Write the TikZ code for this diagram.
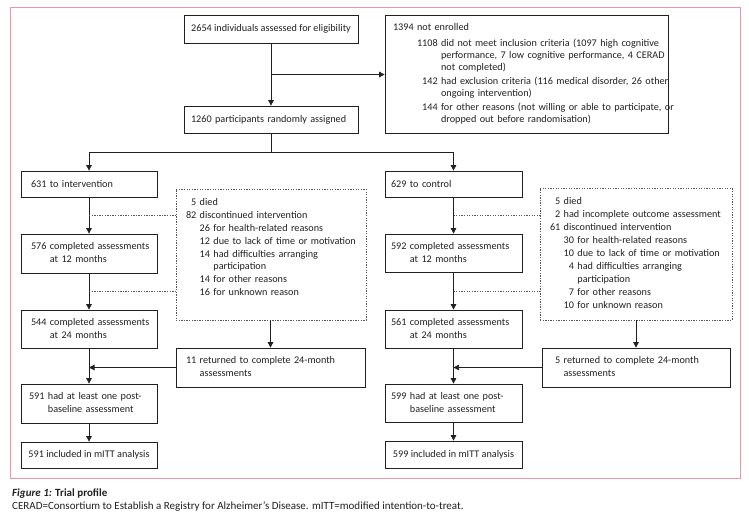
\documentclass[tikz,border=0pt]{standalone}
\usepackage{fontspec}
\setmainfont{Carlito}
\usetikzlibrary{arrows.meta,calc}
\definecolor{ink}{HTML}{231F20}
\definecolor{framepink}{HTML}{E797A6}
\definecolor{dashgray}{HTML}{555555}
\tikzset{
  base/.style={inner sep=0pt, font=\fontsize{10.2pt}{12.9pt}\selectfont, text=ink},
  box/.style={base, draw=ink, line width=0.75pt},
  lbox/.style={box, align=left},
  cbox/.style={box, align=center},
  dbox/.style={base, draw=dashgray, line width=0.75pt, dash pattern=on 1.3pt off 1.3pt, align=left},
  conn/.style={draw=ink, line width=0.75pt},
  arr/.style={conn, -{Triangle[width=5.5pt,length=5.5pt]}},
  dconn/.style={draw=dashgray, line width=0.75pt, dash pattern=on 1.3pt off 1.3pt},
  captext/.style={anchor=base west, inner sep=0pt, text=ink, font=\fontsize{11pt}{13pt}\selectfont},
}
\begin{document}
\begin{tikzpicture}[x=1pt,y=-1pt]
\useasboundingbox (0,0) rectangle (749,520);
\draw[framepink, line width=0.9pt] (10.5,7) rectangle (740.5,478);

% top
\node[cbox, minimum width=174pt, minimum height=28pt] (A) at (271,29) {2654 individuals assessed for eligibility};
\node[lbox, minimum width=283pt, minimum height=118pt, text width=267pt, font=\fontsize{10.2pt}{12pt}\selectfont] (B) at (526.5,74) {\begin{tabular}{@{}r@{\ }l@{}}
\multicolumn{2}{@{}l@{}}{1394 not enrolled}\\[4pt]
\hspace*{24pt}1108 & did not meet inclusion criteria (1097 high cognitive\\
 & performance, 7 low cognitive performance, 4 CERAD\\
 & not completed)\\[2pt]
142 & had exclusion criteria (116 medical disorder, 26 other\\
 & ongoing intervention)\\[2pt]
144 & for other reasons (not willing or able to participate, or\\
 & dropped out before randomisation)
\end{tabular}};
\node[lbox, minimum width=174pt, minimum height=27pt, text width=160pt] (C) at (271,119.5) {1260 participants randomly assigned};

% left column
\node[lbox, minimum width=136pt, minimum height=26pt, text width=116pt] (D) at (89,184) {631 to intervention};
\node[lbox, minimum width=136pt, minimum height=39pt, text width=116pt] (E) at (89,253.5) {\begin{tabular}{@{}r@{\ }l@{}}576 & completed assessments\\ & at 12 months\end{tabular}};
\node[lbox, minimum width=136pt, minimum height=38pt, text width=116pt] (F) at (89,329) {\begin{tabular}{@{}r@{\ }l@{}}544 & completed assessments\\ & at 24 months\end{tabular}};
\node[lbox, minimum width=136pt, minimum height=39pt, text width=120pt] (G) at (89,403.5) {\begin{tabular}{@{}r@{\ }l@{}}591 & had at least one post-\\ & baseline assessment\end{tabular}};
\node[cbox, minimum width=136pt, minimum height=26pt] (H) at (89,455) {591 included in mITT analysis};
\node[dbox, minimum width=190pt, minimum height=131pt, text width=170pt] (L) at (271,254.5) {\begin{tabular}{@{}r@{\ }r@{\ }l@{}}
5 & \multicolumn{2}{@{}l@{}}{died}\\
82 & \multicolumn{2}{@{}l@{}}{discontinued intervention}\\
 & 26 & for health-related reasons\\
 & 12 & due to lack of time or motivation\\
 & 14 & had difficulties arranging\\
 & & participation\\
 & 14 & for other reasons\\
 & 16 & for unknown reason\\
 & & {}
\end{tabular}};
\node[lbox, minimum width=189pt, minimum height=39pt, text width=169pt] (I) at (270.5,367.5) {\begin{tabular}{@{}r@{\ }l@{}}11 & returned to complete 24-month\\ & assessments\end{tabular}};

% right column
\node[lbox, minimum width=137pt, minimum height=26pt, text width=125pt] (P) at (453.5,184) {629 to control};
\node[lbox, minimum width=137pt, minimum height=38pt, text width=125pt] (Q) at (453.5,253) {\begin{tabular}{@{}r@{\ }l@{}}592 & completed assessments\\ & at 12 months\end{tabular}};
\node[lbox, minimum width=137pt, minimum height=38pt, text width=125pt] (R) at (453.5,329) {\begin{tabular}{@{}r@{\ }l@{}}561 & completed assessments\\ & at 24 months\end{tabular}};
\node[lbox, minimum width=137pt, minimum height=38pt, text width=125pt] (S) at (453.5,403) {\begin{tabular}{@{}r@{\ }l@{}}599 & had at least one post-\\ & baseline assessment\end{tabular}};
\node[cbox, minimum width=137pt, minimum height=27pt] (T) at (453.5,454.5) {599 included in mITT analysis};
\node[dbox, minimum width=192pt, minimum height=132pt, text width=172pt] (Rd) at (636,254) {\begin{tabular}{@{}r@{\ }r@{\ }l@{}}
5 & \multicolumn{2}{@{}l@{}}{died}\\
2 & \multicolumn{2}{@{}l@{}}{had incomplete outcome assessment}\\
61 & \multicolumn{2}{@{}l@{}}{discontinued intervention}\\
 & 30 & for health-related reasons\\
 & 10 & due to lack of time or motivation\\
 & 4 & had difficulties arranging\\
 & & participation\\
 & 7 & for other reasons\\
 & 10 & for unknown reason
\end{tabular}};
\node[lbox, minimum width=188pt, minimum height=39pt, text width=162pt] (J) at (636,367.5) {\begin{tabular}{@{}r@{\ }l@{}}5 & returned to complete 24-month\\ & assessments\end{tabular}};

% connectors top
\draw[arr] (A) -- (C);
\coordinate (a1) at ($(A.south)!0.5!(C.north)$);
\draw[arr] (a1) -- (a1 -| B.west);
\coordinate (c1) at (C.south |- 0,152);
\draw[conn] (C.south) -- (c1);
\draw[arr] (c1) -| (D.north);
\draw[arr] (c1) -| (P.north);

% left connectors
\draw[arr] (D) -- (E);
\draw[arr] (E) -- (F);
\draw[arr] (F) -- (G);
\draw[arr] (G) -- (H);
\coordinate (m1) at ($(D.south)!0.5!(E.north)$);
\coordinate (m2) at ($(E.south)!0.5!(F.north)$);
\draw[dconn] (m1) -- (m1 -| L.west);
\draw[dconn] (m2) -- (m2 -| L.west);
\draw[arr] (L.south -| I.north) -- (I.north);
\draw[arr] (I.west) -- (I.west -| F.south);

% right connectors
\draw[arr] (P) -- (Q);
\draw[arr] (Q) -- (R);
\draw[arr] (R) -- (S);
\draw[arr] (S) -- (T);
\coordinate (n1) at ($(P.south)!0.5!(Q.north)$);
\coordinate (n2) at ($(Q.south)!0.5!(R.north)$);
\draw[dconn] (n1) -- (n1 -| Rd.west);
\draw[dconn] (n2) -- (n2 -| Rd.west);
\draw[arr] (Rd.south -| J.north) -- (J.north);
\draw[arr] (J.west) -- (J.west -| R.south);

% caption
\node[captext] (cap1) at (12,496) {\textbf{\textit{Figure 1:} Trial profile}};
\node[captext] (cap2) at (12,509) {CERAD=Consortium to Establish a Registry for Alzheimer’s Disease. mITT=modified intention-to-treat.};
\end{tikzpicture}
\end{document}
